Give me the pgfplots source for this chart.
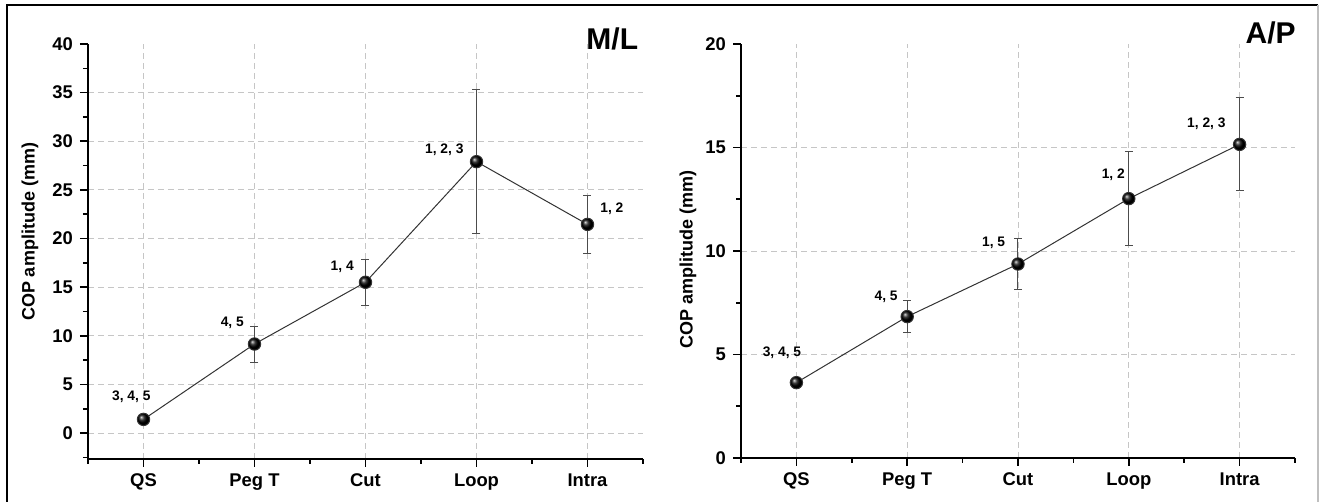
\documentclass[border=0pt]{standalone}
\usepackage{fontspec}
\setmainfont{Liberation Sans}
\usepackage{pgfplots}
\pgfplotsset{compat=1.18}

\pgfplotsset{
 myaxis/.style={
  scale only axis,
  anchor=south west,
  axis x line=bottom, axis y line=left,
  axis line style={-, line width=0.9pt},
  tick align=outside,
  major tick length=4pt, minor tick length=2.5pt,
  major tick style={black, line width=0.8pt},
  minor tick style={black, line width=0.8pt},
  xmin=-0.5, xmax=4.5,
  xtick={0,1,2,3,4},
  xticklabels={QS,Peg T,Cut,Loop,Intra},
  minor xtick={-0.5,0.5,1.5,2.5,3.5,4.5},
  xmajorgrids, ymajorgrids,
  major grid style={densely dashed, gray!45, line width=0.4pt},
  tick label style={font=\fontsize{9.2}{10}\selectfont\bfseries},
  /pgf/number format/assume math mode=true,
  label style={font=\fontsize{9}{10}\selectfont\bfseries},
  ylabel={COP amplitude (mm)},
  extra y tick style={grid=none},
  clip=false,
 },
 myplot/.style={
  line width=0.5pt, color=black!80,
  mark=ball, mark size=3.1pt, mark options={ball color=black},
  error bars/.cd, y dir=both, y explicit,
  error bar style={gray!60!black, line width=0.5pt},
  error mark options={rotate=90, mark size=2pt, gray!60!black, line width=0.5pt},
 },
}
\tikzset{lab/.style={font=\fontsize{6.9}{8}\selectfont\bfseries}}

\begin{document}
\begin{tikzpicture}
\useasboundingbox (0pt,0pt) rectangle (662pt,251pt);
\draw[black, line width=0.8pt] (3.5pt,0pt) -- (3.5pt,248.5pt) -- (659pt,248.5pt);
\draw[gray!50, line width=1pt] (659pt,248.5pt) -- (659pt,0pt);

% M/L panel
\begin{axis}[myaxis,
  at={(44pt,21.5pt)}, width=277.5pt, height=207.5pt,
  ymin=-2.67, ymax=40,
  ytick={0,5,...,35}, extra y ticks={40},
  minor ytick={-2.5,2.5,7.5,12.5,17.5,22.5,27.5,32.5,37.5},
  ylabel style={at={(axis description cs:-0.1045,0.547)}, anchor=center},
]
\addplot[myplot] coordinates {
  (0,1.4)   +- (0,0.4)
  (1,9.15)  +- (0,1.85)
  (2,15.5)  +- (0,2.35)
  (3,27.9)  +- (0,7.4)
  (4,21.45) +- (0,3.0)
};
\node[lab] at (axis cs:-0.11,3.7) {3, 4, 5};
\node[lab] at (axis cs:0.80,11.3) {4, 5};
\node[lab] at (axis cs:1.79,17.1) {1, 4};
\node[lab] at (axis cs:2.71,29.1) {1, 2, 3};
\node[lab] at (axis cs:4.22,23.1) {1, 2};
\node[anchor=east, font=\fontsize{15}{16}\selectfont\bfseries] at (axis cs:4.52,40.5) {M/L};
\end{axis}

% A/P panel
\begin{axis}[myaxis,
  at={(370.5pt,22pt)}, width=277pt, height=207pt,
  ymin=0, ymax=20,
  ytick={0,5,10,15}, extra y ticks={20},
  minor ytick={2.5,7.5,12.5,17.5},
  ylabel style={at={(axis description cs:-0.0957,0.48)}, anchor=center},
]
\addplot[myplot] coordinates {
  (0,3.64)  +- (0,0.2)
  (1,6.83)  +- (0,0.79)
  (2,9.37)  +- (0,1.24)
  (3,12.53) +- (0,2.28)
  (4,15.15) +- (0,2.25)
};
\node[lab] at (axis cs:-0.13,5.07) {3, 4, 5};
\node[lab] at (axis cs:0.81,7.78) {4, 5};
\node[lab] at (axis cs:1.78,10.39) {1, 5};
\node[lab] at (axis cs:2.86,13.67) {1, 2};
\node[lab] at (axis cs:3.70,16.13) {1, 2, 3};
\node[anchor=east, font=\fontsize{15}{16}\selectfont\bfseries] at (axis cs:4.57,20.53) {A/P};
\end{axis}
\end{tikzpicture}
\end{document}
